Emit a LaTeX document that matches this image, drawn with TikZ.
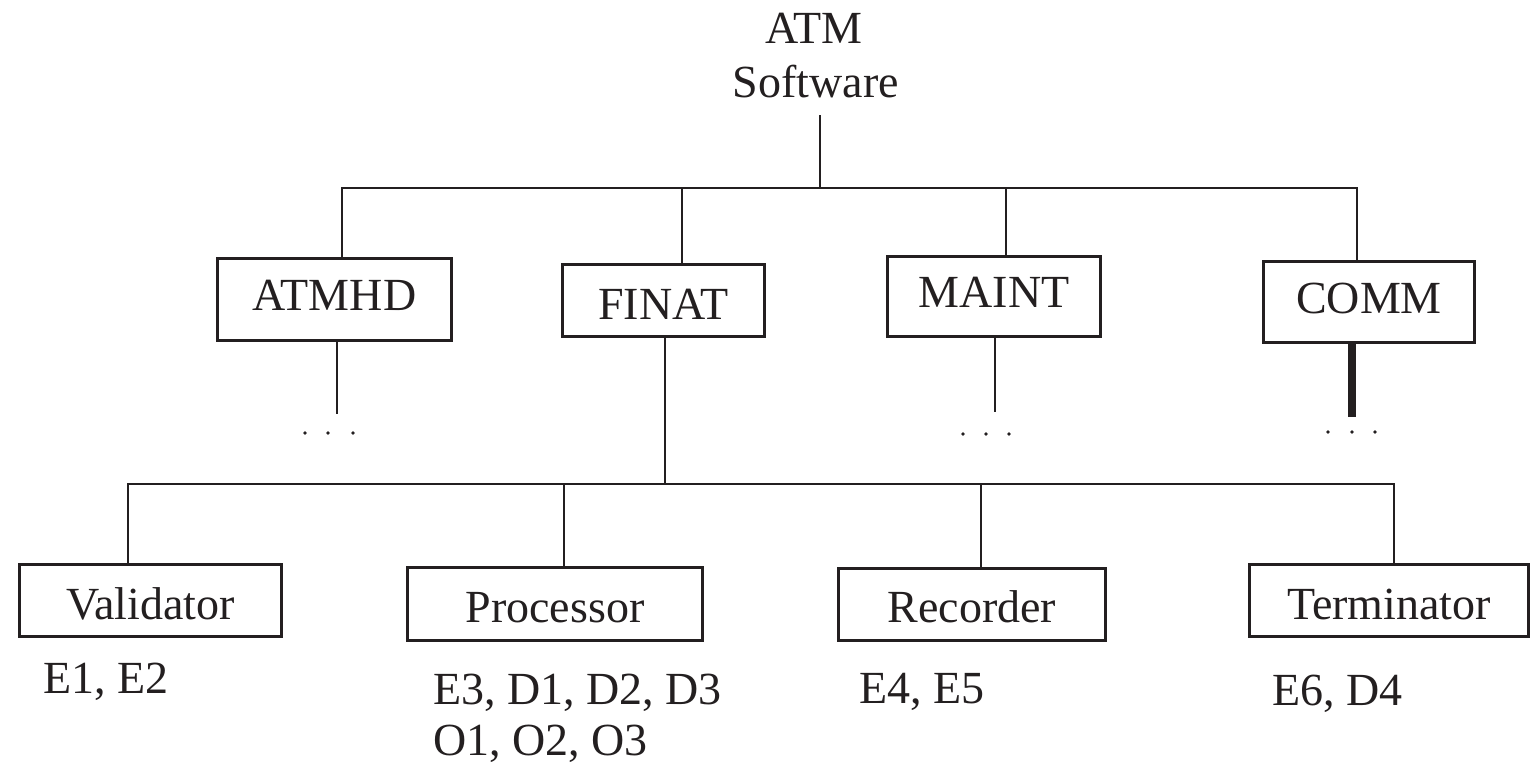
\documentclass[tikz,border=0pt]{standalone}
\usepackage{fontspec}
\setmainfont{Liberation Serif}
\definecolor{ink}{HTML}{231F20}
\begin{document}
\begin{tikzpicture}[x=1pt,y=-1pt,
  every node/.style={font=\fontsize{46}{54}\selectfont, text=ink, inner sep=0pt},
  box/.style={draw=ink, line width=2.6pt},
  lbl/.style={anchor=base west},
  link/.style={draw=ink, line width=2.6pt, line join=miter},
  thick link/.style={draw=ink, line width=8.5pt},
  dot/.style={fill=ink}
  ]
\useasboundingbox (0,0) rectangle (1532,766);

% root text
\node[anchor=base] (atm) at (814,43) {ATM};
\node[anchor=base] (soft) at (816,97) {Software};

% level-1 boxes
\node[box, minimum width=234, minimum height=82, text height=30pt, text depth=9pt] (atmhd) at (334.5,299.5) {ATMHD};
\node[box, minimum width=202, minimum height=72, text height=38pt, text depth=1pt] (finat) at (663.5,300.5) {FINAT};
\node[box, minimum width=213, minimum height=80, text height=30pt, text depth=9pt] (maint) at (994,296.5) {MAINT};
\node[box, minimum width=211, minimum height=81, text height=30.5pt, text depth=8.5pt] (comm) at (1369,302) {COMM};

% level-2 boxes
\node[box, minimum width=262, minimum height=72, text height=38pt, text depth=1pt] (valid) at (150.5,600.5) {Validator};
\node[box, minimum width=295, minimum height=73, text height=37.5pt, text depth=1.5pt] (proc) at (555,604) {Processor};
\node[box, minimum width=267, minimum height=72, text height=37pt, text depth=2pt] (rec) at (972,604.5) {Recorder};
\node[box, minimum width=279, minimum height=72, text height=38pt, text depth=1pt] (term) at (1389,600.5) {Terminator};

% labels under boxes
\node[lbl] (l1) at (43,693) {E1, E2};
\node[lbl] (l2) at (433,704) {E3, D1, D2, D3};
\node[lbl] (l2b) at (433,755) {O1, O2, O3};
\node[lbl] (l3) at (859,703) {E4, E5};
\node[lbl] (l4) at (1272,705) {E6, D4};

% top tree
\coordinate (rt) at (820,115);
\coordinate (hub) at (820,188);
\coordinate (b1) at (342,188);
\coordinate (b2) at (682,188);
\coordinate (b3) at (1006,188);
\coordinate (b4) at (1357,188);
\draw[link] (rt) -- (hub);
\draw[link] (b1 |- atmhd.north) -- (b1) -- (b4) -- (b4 |- comm.north);
\draw[link] (b2) -- (b2 |- finat.north);
\draw[link] (b3) -- (b3 |- maint.north);

% stubs with ellipses
\coordinate (d1) at (337,414);
\coordinate (d3) at (995,412);
\coordinate (d4) at (1352,417);
\draw[link] (atmhd.south -| d1) -- (d1);
\draw[link] (maint.south -| d3) -- (d3);
\draw[thick link] (comm.south -| d4) -- (d4);
\foreach \x in {305,328,353} \fill[dot] (\x,433) circle (1.9);
\foreach \x in {963,986,1009} \fill[dot] (\x,434) circle (1.9);
\foreach \x in {1328,1352,1375} \fill[dot] (\x,432) circle (1.9);

% lower tree
\coordinate (f1) at (665,485);
\coordinate (c1) at (128,484);
\coordinate (c2) at (564,484);
\coordinate (c3) at (981,484);
\coordinate (c4) at (1394,484);
\draw[link] (finat.south -| f1) -- (f1);
\draw[link] (c1 |- valid.north) -- (c1) -- (c4) -- (c4 |- term.north);
\draw[link] (c2) -- (c2 |- proc.north);
\draw[link] (c3) -- (c3 |- rec.north);
\end{tikzpicture}
\end{document}
